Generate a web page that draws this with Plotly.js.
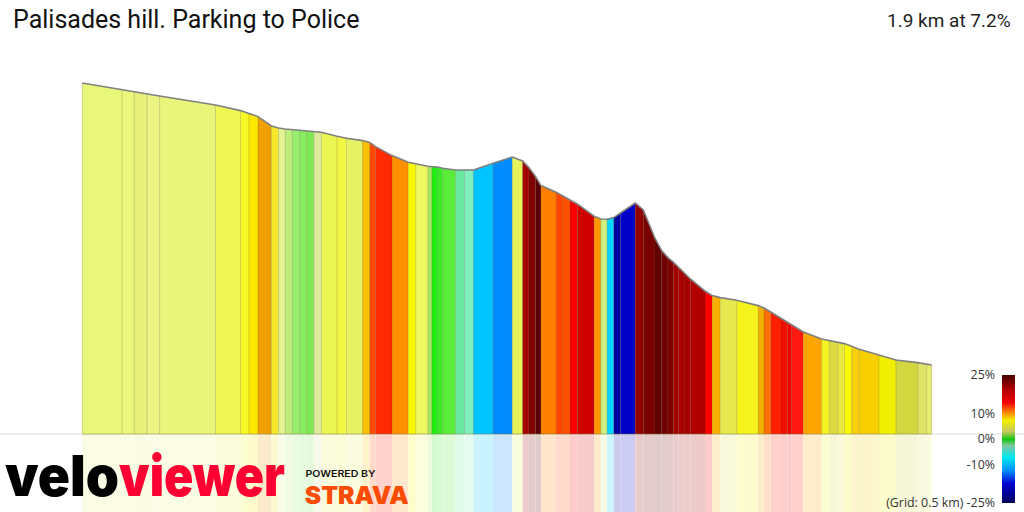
<!DOCTYPE html>
<html><head><meta charset="utf-8">
<script src="https://cdn.plot.ly/plotly-3.0.1.min.js"></script>
<style>html,body{margin:0;padding:0;background:#fff;overflow:hidden}#c{width:1024px;height:512px}</style>
</head><body><div id="c"></div>
<script>
const distanceM = [0,89,116,145,173,298,354,373,393,423,439,454,470,486,502,518,535,570,591,627,643,656,693,729,746,773,782,795,806,835,855,875,919,962,985,999,1014,1026,1060,1075,1091,1108,1145,1160,1174,1189,1204,1237,1255,1281,1296,1310,1322,1334,1348,1361,1393,1409,1427,1464,1512,1525,1540,1563,1578,1587,1613,1654,1671,1690,1705,1721,1738,1782,1820,1869,1889,1900];
const elevationM = [175.5,172,171,170,169,164.5,161.7,160.3,158.7,154,153,152.5,152.2,151.9,151.5,151.2,150.9,148.9,147.9,146.7,145.7,143.7,139.2,135.9,135,133.9,133.7,133.5,132.9,132,132,132,135.4,138.5,136.5,133.2,128.7,124.2,120.9,119,117,114.9,108.9,107.5,107.4,108.2,110.5,115.5,112,97.9,91.7,88.2,85.9,83.4,80,77.4,71.5,69.2,68.2,66.9,64.2,63,61,57.9,56,54.5,51,47.5,46.7,46,45.2,43.9,42.4,39.5,37,35.7,35,34.5];
const segmentColours = ['#e9f77a','#ecf77e','#e6f07a','#ecf583','#e9f57a','#eff552','#f6f925','#ffe800','#f0a000','#f5e82a','#e3f293','#bcec7a','#96ee6c','#88ee60','#80ea55','#dbeb9b','#eaf452','#f2f842','#e6f262','#fcc000','#ff4a00','#ff2a00','#ff9000','#f8f800','#eef860','#a8e860','#20ee14','#38ec28','#5aee3a','#68e8a0','#80f0c0','#00c4ff','#008cff','#e6f25a','#a00000','#800000','#5a0000','#ff8000','#ff4400','#ff5000','#f80000','#d00000','#ff9800','#cef080','#00d4ff','#0000a0','#0000c8','#900000','#780000','#600000','#700000','#800000','#a00000','#a80000','#a80000','#b00000','#ff0000','#f8b000','#e6e84e','#f4f41c','#f0b000','#ff7000','#ff2000','#f01000','#ee0000','#ff1810','#ffa500','#f4f420','#dcdc40','#e8e840','#fafa00','#f8d010','#f8d000','#f0f000','#d4d840','#dee464','#e8f070'];
const legendGrades = [-25,-22.6,-17,-12,-7,-2.3,0,3,7.4,10.7,14.6,19.5,25];
const legendColours = ['#000050','#000080','#0000d0','#0090ff','#00e8f0','#80c8a0','#10c810','#c8c860','#f0f000','#ff8800','#f00000','#b00000','#4a0000'];
const legendTicks = [25,10,0,-10,-25];
const legendLabels = ['25%','10%','0%','-10%','(Grid: 0.5 km) -25%'];
const titleText = 'Palisades hill. Parking to Police';
const summaryText = '1.9 km at 7.2%';

const traces = [];
segmentColours.forEach((col,i)=>{
  traces.push({type:'scatter',mode:'lines',fill:'toself',fillcolor:col,line:{width:0},hoverinfo:'skip',
    x:[distanceM[i],distanceM[i],distanceM[i+1],distanceM[i+1]],
    y:[0,elevationM[i],elevationM[i+1],0]});
});
const mids = segmentColours.map((_,i)=>(distanceM[i]+distanceM[i+1])/2);
const widths = segmentColours.map((_,i)=>distanceM[i+1]-distanceM[i]);
traces.push({type:'bar',x:mids,width:widths,y:mids.map(()=>-39),base:0,opacity:0.2,
  marker:{color:segmentColours,line:{width:0}},hoverinfo:'skip'});
const sx=[],sy=[];
distanceM.forEach((d,i)=>{sx.push(d,d,null);sy.push(0,elevationM[i],null);});
traces.push({type:'scatter',mode:'lines',x:sx,y:sy,line:{color:'rgba(70,50,0,0.2)',width:1},hoverinfo:'skip'});
traces.push({type:'scatter',mode:'lines',x:[distanceM[0],distanceM[distanceM.length-1]],y:[0,0],line:{color:'rgba(120,120,50,0.45)',width:1},hoverinfo:'skip'});
traces.push({type:'scatter',mode:'lines',x:distanceM,y:elevationM,line:{color:'#808080',width:1.6},hoverinfo:'skip'});
const cmin=-25,cmax=25;
traces.push({type:'heatmap',xaxis:'x2',yaxis:'y2',x:[0,1],y:legendGrades,z:legendGrades.map(g=>[g,g]),
  zsmooth:'best',zmin:cmin,zmax:cmax,showscale:false,hoverinfo:'skip',
  colorscale:legendGrades.map((g,i)=>[(g-cmin)/(cmax-cmin),legendColours[i]])});

const annos=[
 {xref:'paper',yref:'paper',x:11/1024,y:1-19/512,xanchor:'left',yanchor:'middle',showarrow:false,text:titleText,font:{family:'Roboto',size:25,color:'#111'}},
 {xref:'paper',yref:'paper',x:1013/1024,y:1-20/512,xanchor:'right',yanchor:'middle',showarrow:false,text:summaryText,font:{family:'Roboto',size:19,color:'#222'}},
 {xref:'paper',yref:'paper',x:62/1024,y:0,xanchor:'center',yanchor:'bottom',showarrow:false,text:'velo',font:{family:'Inter',size:56,weight:900,color:'#000'}},
 {xref:'paper',yref:'paper',x:202/1024,y:0,xanchor:'center',yanchor:'bottom',showarrow:false,text:'viewer',font:{family:'Inter',size:56,weight:900,color:'#ff0033'}},
 {xref:'paper',yref:'paper',x:340/1024,y:1-473/512,xanchor:'center',yanchor:'middle',showarrow:false,text:'POWERED BY',font:{family:'Inter',size:9.5,weight:600,color:'#111'}},
 {xref:'paper',yref:'paper',x:357/1024,y:1-495/512,xanchor:'center',yanchor:'middle',showarrow:false,text:'STRAVA',font:{family:'Inter',size:24,weight:900,color:'#fc4c02'}}
];
const layout={width:1024,height:512,margin:{l:0,r:0,t:0,b:0,pad:0},paper_bgcolor:'#fff',plot_bgcolor:'#fff',showlegend:false,barmode:'overlay',
 xaxis:{range:[-184.1,2106.6],domain:[0,1],visible:false,fixedrange:true},
 yaxis:{range:[-39,217],domain:[0,1],showgrid:false,showticklabels:false,ticks:'',zeroline:true,zerolinecolor:'#eeeeee',zerolinewidth:2,showline:false,fixedrange:true},
 xaxis2:{domain:[1002/1024,1015/1024],anchor:'y2',visible:false,range:[0,1],fixedrange:true},
 yaxis2:{domain:[9/512,137/512],anchor:'x2',range:[-25,25],tickvals:legendTicks,ticktext:legendLabels,tickfont:{family:'Open Sans',size:12.4,color:'#333'},ticks:'',showgrid:false,zeroline:false,showline:false,side:'left',ticklabelstandoff:6,fixedrange:true},
 annotations:annos};
Plotly.newPlot('c',traces,layout,{displayModeBar:false,staticPlot:true}).then(()=>{
  const fit={velo:114,viewer:166,'POWERED BY':70,STRAVA:104};
  document.querySelectorAll('.annotation-text').forEach(t=>{
    const f=fit[t.textContent];
    if(f){t.setAttribute('textLength',f);t.setAttribute('lengthAdjust','spacingAndGlyphs');}
  });
});
</script></body></html>
